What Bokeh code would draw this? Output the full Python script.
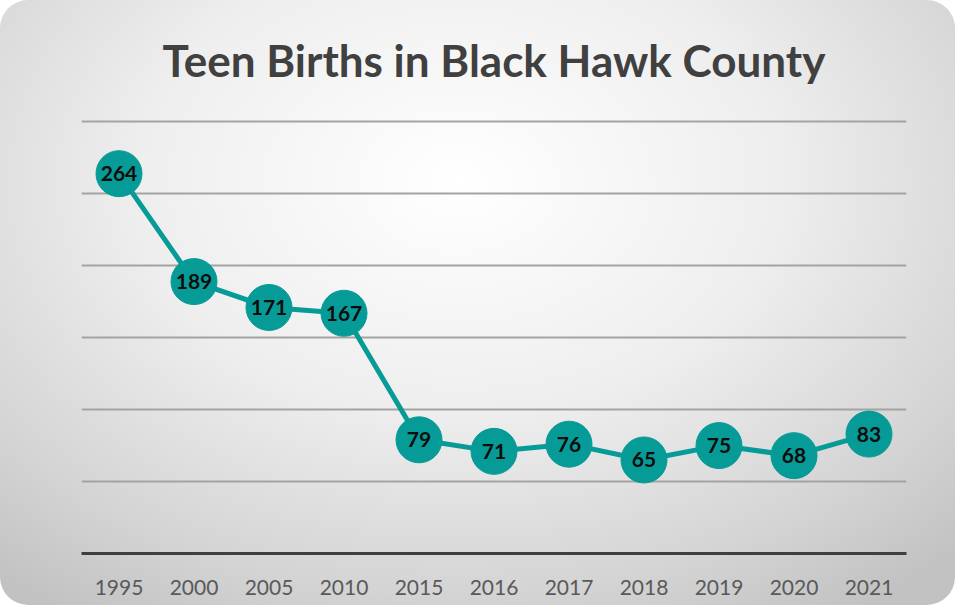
from bokeh.plotting import figure
from bokeh.models import ColumnDataSource, FixedTicker, Range1d, FactorRange
from bokeh.core.properties import value
from bokeh.embed import file_html
from bokeh.resources import INLINE

years = ["1995", "2000", "2005", "2010", "2015", "2016", "2017", "2018", "2019", "2020", "2021"]
births = [264, 189, 171, 167, 79, 71, 76, 65, 75, 68, 83]
grid_levels = [50, 100, 150, 200, 250, 300]

src = ColumnDataSource(dict(year=years, births=births, label=[str(b) for b in births]))

TEAL = "#079b98"

p = figure(
    width=955, height=605,
    x_range=FactorRange(*years, range_padding=0),
    y_range=Range1d(0, 310),
    output_backend="svg", toolbar_location=None,
    min_border_left=81, min_border_right=49, min_border_top=107, min_border_bottom=52,
    title="Teen Births in Black Hawk County",
)
p.styles = {
    "background": "radial-gradient(ellipse 75% 85% at 48% 30%, #ffffff 0%, #eeeeee 45%, #d4d4d4 80%, #c2c2c2 100%)",
    "border-radius": "28px",
}
p.background_fill_color = None
p.border_fill_color = None
p.outline_line_color = None

p.title.align = "center"
p.title.text_font = "Lato"
p.title.text_font_size = "44px"
p.title.text_font_style = "bold"
p.title.text_color = "#404040"
p.title.standoff = 44

p.yaxis.visible = False
p.xgrid.grid_line_color = None
p.ygrid.ticker = FixedTicker(ticks=grid_levels)
p.ygrid.grid_line_color = "#a3a3a3"
p.ygrid.grid_line_width = 2

xa = p.xaxis[0]
xa.axis_line_color = "#3f3f3f"
xa.axis_line_width = 3
xa.major_tick_line_color = None
xa.minor_tick_line_color = None
xa.major_label_text_font = "Lato"
xa.major_label_text_font_size = "21px"
xa.major_label_text_color = "#595959"
xa.major_label_standoff = 20

p.line("year", "births", source=src, line_color=TEAL, line_width=5)
p.scatter("year", "births", source=src, size=46, fill_color=TEAL, line_color=TEAL)
p.text("year", "births", text="label", source=src, text_align="center", text_baseline="middle",
       text_font=value("Lato"), text_font_style="bold", text_font_size="21px", text_color="#0d0d0d")

open("out.html", "w").write(file_html(p, INLINE))
